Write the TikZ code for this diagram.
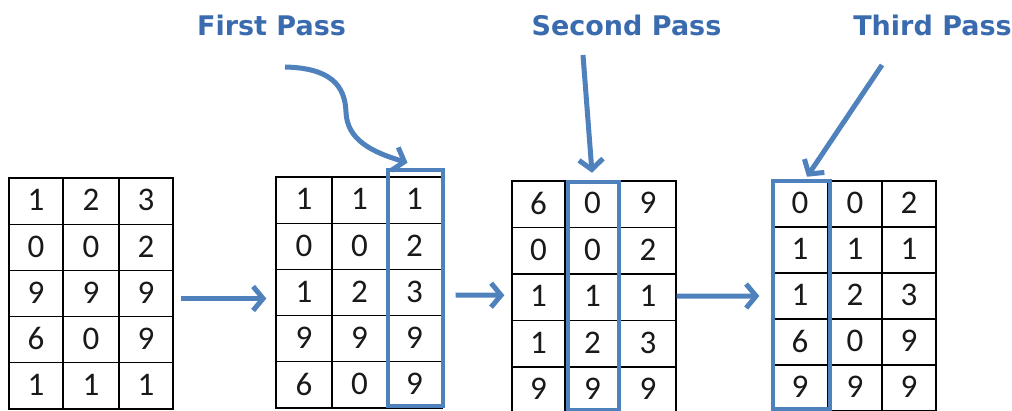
\documentclass[tikz,border=0pt]{standalone}
\usepackage{fontspec}
\newfontfamily\digitfont{Carlito}
\newfontfamily\titlefont{DejaVu Sans}
\usetikzlibrary{arrows.meta,calc}
\definecolor{obl}{HTML}{4F81BD}
\definecolor{tbl}{HTML}{3A6BAF}
\tikzset{
  cell/.style={draw=black, line width=1.3pt, inner sep=0pt, font=\digitfont\fontsize{33}{33}\selectfont, text=black!90, text depth=2pt},
  hl/.style={draw=obl, line width=4.5pt, inner sep=0pt},
  arr/.style={draw=obl, line width=5pt, -{Straight Barb[length=10pt,width=24pt]}},
  ttl/.style={font=\titlefont\bfseries\fontsize{27}{27}\selectfont, text=tbl, anchor=base}
}
\begin{document}
\begin{tikzpicture}[x=1pt,y=-1pt]
\fill[white] (0,0) rectangle (1012,411);
\useasboundingbox (0,0) rectangle (1012,411);

% Table 1
\foreach \a/\b/\c [count=\i from 0] in {1/2/3,0/0/2,9/9/9,6/0/9,1/1/1}{
  \node[cell,minimum width=54pt,minimum height=46.2pt] (ta-\i-1) at (36,{178+46.2*(\i+0.5)}) {\a};
  \node[cell,minimum width=56pt,minimum height=46.2pt] (ta-\i-2) at (91,{178+46.2*(\i+0.5)}) {\b};
  \node[cell,minimum width=54pt,minimum height=46.2pt] (ta-\i-3) at (146,{178+46.2*(\i+0.5)}) {\c};
}
% Table 2
\foreach \a/\b/\c [count=\i from 0] in {1/1/1,0/0/2,1/2/3,9/9/9,6/0/9}{
  \node[cell,minimum width=56pt,minimum height=46.2pt] (tb-\i-1) at (304,{177+46.2*(\i+0.5)}) {\a};
  \node[cell,minimum width=55pt,minimum height=46.2pt] (tb-\i-2) at (359.5,{177+46.2*(\i+0.5)}) {\b};
  \node[cell,minimum width=55pt,minimum height=46.2pt] (tb-\i-3) at (414.5,{177+46.2*(\i+0.5)}) {\c};
}
% Table 3
\foreach \a/\b/\c [count=\i from 0] in {6/0/9,0/0/2,1/1/1,1/2/3,9/9/9}{
  \node[cell,minimum width=53pt,minimum height=46.5pt] (tc-\i-1) at (538.5,{181+46.5*(\i+0.5)}) {\a};
  \node[cell,minimum width=55pt,minimum height=46.5pt] (tc-\i-2) at (592.5,{181+46.5*(\i+0.5)}) {\b};
  \node[cell,minimum width=56pt,minimum height=46.5pt] (tc-\i-3) at (648,{181+46.5*(\i+0.5)}) {\c};
}
% Table 4
\foreach \a/\b/\c [count=\i from 0] in {0/0/2,1/1/1,1/2/3,6/0/9,9/9/9}{
  \node[cell,minimum width=56pt,minimum height=46pt] (td-\i-1) at (800,{181+46*(\i+0.5)}) {\a};
  \node[cell,minimum width=54pt,minimum height=46pt] (td-\i-2) at (855,{181+46*(\i+0.5)}) {\b};
  \node[cell,minimum width=54pt,minimum height=46pt] (td-\i-3) at (909,{181+46*(\i+0.5)}) {\c};
}

% Highlight columns
\node[hl, minimum width=55pt, minimum height=236pt] (hb) at (415.5,288) {};
\node[hl, minimum width=51pt, minimum height=228pt] (hc) at (593.5,296) {};
\node[hl, minimum width=57pt, minimum height=228pt] (hd) at (801.5,295) {};

% Titles
\node[ttl] (p1) at (271.5,36) {First Pass};
\node[ttl] (p2) at (626.5,36) {Second Pass};
\node[ttl] (p3) at (932.5,36) {Third Pass};

% Pass arrows
\draw[arr] ($(p1.base)+(13.5,31)$) .. controls (330,68) and (345,85) .. (346,112)
           .. controls (347,140) and (372,152) .. ($(hb.north)+(-8,-5)$);
\draw[arr] ($(p2.base)+(-43.5,19)$) -- ($(hc.north)+(-1.5,-7)$);
\draw[arr] ($(p3.base)+(-50.5,29)$) -- ($(hd.north)+(5.5,-2)$);

% Step arrows
\draw[arr] ([xshift=7pt,yshift=-5pt]ta-2-3.east) -- ([xshift=-9pt,yshift=-6pt]tb-2-1.west);
\draw[arr] ([xshift=13pt,yshift=-2.5pt]tb-2-3.east) -- ([xshift=-7pt,yshift=2pt]tc-2-1.west);
\draw[arr] ([yshift=1pt]tc-2-3.east) -- ([xshift=-12pt]td-2-1.west);
\end{tikzpicture}
\end{document}
